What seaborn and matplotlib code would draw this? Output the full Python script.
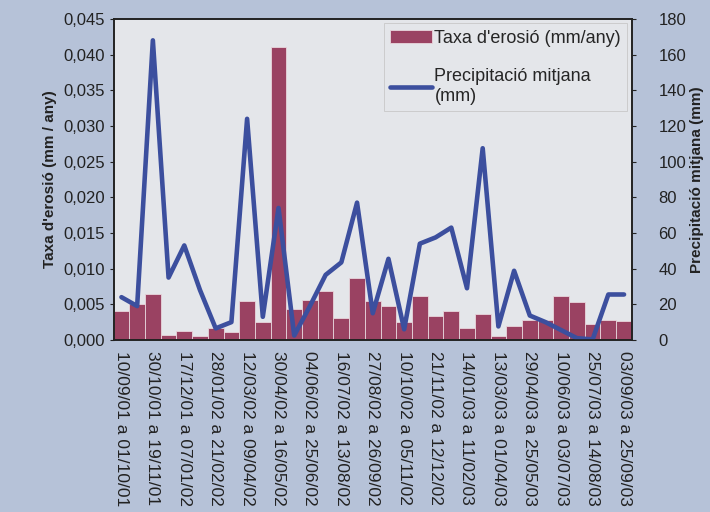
import numpy as np
import pandas as pd
import matplotlib
matplotlib.use("Agg")
import matplotlib.pyplot as plt
import seaborn as sns
from matplotlib.ticker import FuncFormatter, MultipleLocator

# Erosion rate per sampling period (mm/any), 33 periods
erosion_rate = [0.0041, 0.0050, 0.0064, 0.0007, 0.0013, 0.0005, 0.0017, 0.0011,
                0.0054, 0.0025, 0.0411, 0.0043, 0.0056, 0.0068, 0.0031, 0.0087,
                0.0055, 0.0047, 0.0025, 0.0062, 0.0034, 0.0041, 0.0017, 0.0037,
                0.0005, 0.0019, 0.0028, 0.0028, 0.0062, 0.0053, 0.0022, 0.0028,
                0.0027]

# Mean precipitation per period (mm)
precipitation = [24, 19, 168, 35, 53, 28, 6.5, 10, 124, 13, 74, 2.5, 19, 36.5,
                 43.5, 77, 15, 45.5, 6, 54, 57.5, 63, 29, 107.5, 7.6, 38.8,
                 13.7, 10, 5.5, 1, 0.3, 25.5, 25.5]

# Only every other period is labelled on the x axis
period_labels = ["10/09/01 a 01/10/01", "30/10/01 a 19/11/01", "17/12/01 a 07/01/02",
                 "28/01/02 a 21/02/02", "12/03/02 a 09/04/02", "30/04/02 a 16/05/02",
                 "04/06/02 a 25/06/02", "16/07/02 a 13/08/02", "27/08/02 a 26/09/02",
                 "10/10/02 a 05/11/02", "21/11/02 a 12/12/02", "14/01/03 a 11/02/03",
                 "13/03/03 a 01/04/03", "29/04/03 a 25/05/03", "10/06/03 a 03/07/03",
                 "25/07/03 a 14/08/03", "03/09/03 a 25/09/03"]

BAR_COLOR = '#9a4262'
LINE_COLOR = '#3c4f9e'
FIG_BG = '#b6c2d8'
AX_BG = '#e4e6ea'
TXT = '#222222'


def comma_fmt(decimals):
    return FuncFormatter(lambda v, pos: f"{v:.{decimals}f}".replace('.', ','))


def main():
    sns.set_style("white")
    plt.rcParams['font.family'] = ['Liberation Sans', 'DejaVu Sans']

    df = pd.DataFrame({
        'idx': np.arange(len(erosion_rate)),
        'erosio': erosion_rate,
        'precip': precipitation,
    })

    fig = plt.figure(figsize=(7.1, 5.12), dpi=100, facecolor=FIG_BG)
    ax1 = fig.add_axes([0.160, 0.336, 0.730, 0.627])
    ax1.set_facecolor(AX_BG)

    sns.barplot(data=df, x='idx', y='erosio', color=BAR_COLOR, width=1.0,
                edgecolor='#e8d6dc', linewidth=0.6, saturation=1, ax=ax1,
                label="Taxa d'erosió (mm/any)")

    ax1.set_ylim(0, 0.045)
    ax1.yaxis.set_major_locator(MultipleLocator(0.005))
    ax1.yaxis.set_major_formatter(comma_fmt(3))
    ax1.set_xlim(-0.5, len(erosion_rate) - 0.5)
    ax1.set_ylabel("Taxa d'erosió (mm / any)", fontsize=11, fontweight='bold',
                   color=TXT, labelpad=4)
    ax1.set_xlabel('')
    ax1.set_xticks(np.arange(0, len(erosion_rate), 2))
    ax1.set_xticklabels(period_labels, rotation=270, fontsize=12.5, color=TXT)
    ax1.tick_params(axis='y', labelsize=12, colors=TXT, length=3)
    ax1.tick_params(axis='x', length=3, pad=5)

    ax2 = ax1.twinx()
    sns.lineplot(data=df, x='idx', y='precip', color=LINE_COLOR, linewidth=3.3,
                 ax=ax2, label='Precipitació mitjana\n(mm)')
    ax2.set_ylim(0, 180)
    ax2.yaxis.set_major_locator(MultipleLocator(20))
    ax2.set_ylabel('Precipitació mitjana (mm)', fontsize=11, fontweight='bold',
                   color=TXT, labelpad=3)
    ax2.tick_params(axis='y', labelsize=12, colors=TXT, length=3, pad=16)
    ax2.set_xlabel('')

    for ax in (ax1, ax2):
        for sp in ax.spines.values():
            sp.set_color(TXT)
            sp.set_linewidth(1.2)

    # Combined legend inside the top right corner (drop the per-axis ones)
    h1, l1 = ax1.get_legend_handles_labels()
    h2, l2 = ax2.get_legend_handles_labels()
    for ax in (ax1, ax2):
        if ax.get_legend():
            ax.get_legend().remove()
    leg = ax2.legend(h1 + h2, l1 + l2, loc='upper right', fontsize=13,
                     frameon=True, fancybox=False, facecolor=AX_BG,
                     edgecolor='#c8c8c8', framealpha=1, handlelength=2.3,
                     handleheight=0.7, handletextpad=0.15, borderaxespad=0.25,
                     labelspacing=1.2, borderpad=0.35)
    leg.get_frame().set_linewidth(0.6)

    fig.savefig('out.png', dpi=100, facecolor=FIG_BG)


if __name__ == "__main__":
    main()
